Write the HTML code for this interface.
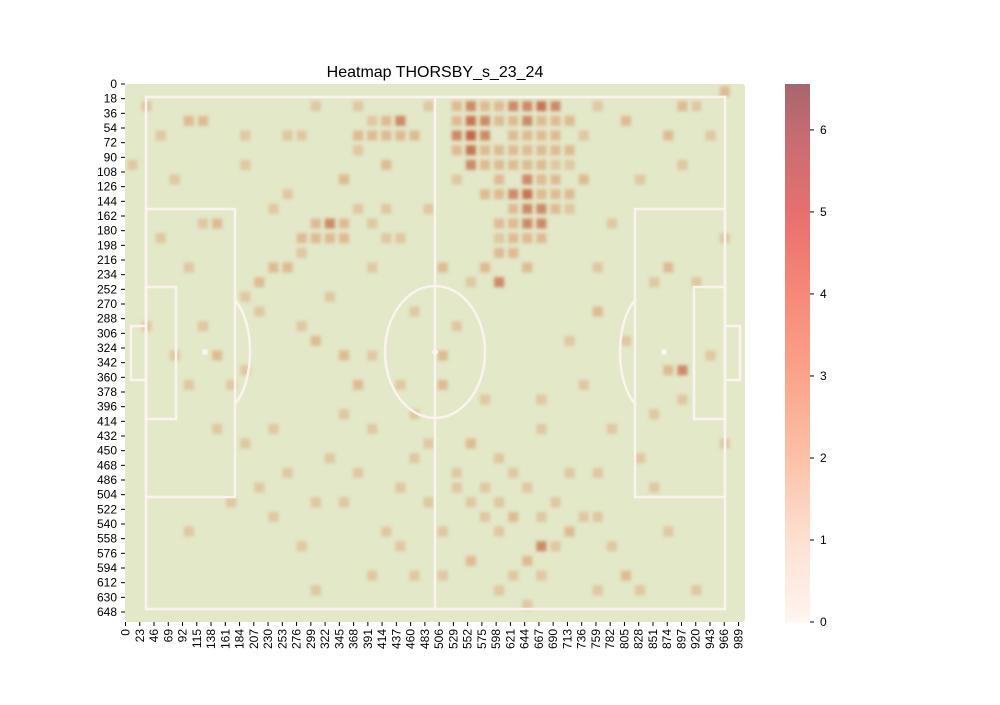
<!DOCTYPE html>
<html><head><meta charset="utf-8">
<style>
body{margin:0;background:#fff;}
svg text{font-family:"Liberation Sans",sans-serif;fill:#000;}
</style></head>
<body>
<svg width="1000" height="700" xmlns="http://www.w3.org/2000/svg">
<defs>
<filter id="bl" x="-20%" y="-20%" width="140%" height="140%"><feGaussianBlur stdDeviation="1.6"/></filter>
<linearGradient id="cb" x1="0" y1="1" x2="0" y2="0">
<stop offset="0" stop-color="#fff5f0"/>
<stop offset="0.15" stop-color="#fde0d2"/>
<stop offset="0.3" stop-color="#fcc2a8"/>
<stop offset="0.45" stop-color="#fba58a"/>
<stop offset="0.6" stop-color="#f88a78"/>
<stop offset="0.75" stop-color="#e8716f"/>
<stop offset="0.9" stop-color="#c76c71"/>
<stop offset="1" stop-color="#a86570"/>
</linearGradient>
</defs>
<text x="435" y="77" font-size="16" text-anchor="middle">Heatmap THORSBY_s_23_24</text>
<rect x="125" y="84" width="620" height="538" rx="3" fill="#e3e8c8"/>
<g id="cells" filter="url(#bl)"></g>
<g fill="none" stroke="#fbf4ee" stroke-width="2.5">
<rect x="146" y="97" width="579" height="512"/>
<line x1="435" y1="97" x2="435" y2="609"/>
<ellipse cx="435" cy="352" rx="50" ry="66"/>
<rect x="146" y="209" width="89" height="288"/>
<rect x="146" y="287" width="30" height="132"/>
<rect x="131" y="326" width="15" height="54"/>
<rect x="635" y="209" width="90" height="288"/>
<rect x="694" y="287" width="31" height="132"/>
<rect x="725" y="326" width="15" height="54"/>
<path d="M235 300 A30 60 0 0 1 235 404"/>
<path d="M635 300 A30 60 0 0 0 635 404"/>
</g>
<circle cx="435" cy="352" r="3" fill="#fbf4ee"/>
<circle cx="205" cy="352" r="3" fill="#fbf4ee"/>
<circle cx="664" cy="352" r="3" fill="#fbf4ee"/>
<g id="xt"></g>
<g id="yt"></g>
<rect x="785" y="84" width="25" height="538" fill="url(#cb)"/>
<g id="cbt"></g>
</svg>
<script>
const cellCols=[24,24,24,24,24,25,25,25,23,27,28,29,30,28,29,30,27,31,27,26,28,27,28,29,28,27,29,29,27,30,26,25,27,26,25,24,22,19,18,20,17,16,13,14,15,12,10,11,9,4,5,6,5,16,13,15,6,4,17,22,39,38,38,37,33,31,32,30,31,29,30,32,35,38,39,41,42,29,28,24,27,31,35,38,24,20,22,18,15,12,11,8,10,11,3,2,9,8,4,5,7,3,1,2,10,11,9,13,14,17,19,21,23,25,26,27,28,30,31,33,32,26,25,22,20,17,13,26,33,36,40,37,36,39,37,41,42,40,42,34,36,39,40,33,21,16,13,8,1,0,23,21,19,17,20,23,19,25,29,32,34,29,31,33,35,14,12,8,6,15,21,28,29,34,12,19,7,4,
23,23,23,25,25,26,26,26,26,27,27,28,28,28,29,29,29,30,30,30,28,28,26,26,27,29,31,31,26,28,19,18,18,17,16,14,15,13,12,16,17,18,
23,24,26,29,30,27,22,18,15,16,10,8,20,33];
const cellRows=[1,2,3,4,5,2,3,4,4,1,1,1,1,2,2,2,3,2,5,6,6,7,7,8,8,8,9,10,9,6,7,7,11,13,12,13,12,2,2,3,3,3,9,9,10,10,12,12,13,2,2,9,9,20,17,18,18,20,18,18,19,19,12,13,15,7,6,4,4,4,5,3,2,3,1,3,0,31,32,32,29,30,33,30,24,22,20,10,6,3,3,5,8,7,6,3,15,14,12,16,20,18,16,10,23,26,27,28,25,23,27,24,27,27,25,26,27,28,26,26,29,30,29,30,33,33,34,34,34,34,34,27,25,21,22,18,24,13,10,9,6,5,1,1,1,1,1,3,1,5,6,8,10,12,15,16,20,21,21,20,23,23,17,12,17,14,16,19,23,22,28,35,33,31,31,31,28,30,
1,2,3,1,5,1,2,4,5,2,4,3,4,5,3,5,6,3,7,8,9,10,9,10,10,7,8,5,11,12,3,3,5,2,4,10,9,10,11,8,9,8,
26,28,28,29,31,33,33,30,28,26,29,24,25,29];
const cellVals=[3,4,5,4,3,3,3,2,2,3,3,4,3,3,2,2,2,2,2,2,3,3,4,3,3,2,3,2,2,2,2,2,2,3,2,1,2,3,2,2,2,2,2,3,2,2,2,2,2,2,2,2,1,2,2,2,2,1,1,2,3,2,2,1,2,2,2,2,2,2,1,1,2,2,2,1,2,3,2,2,2,2,2,1,2,1,2,1,2,1,1,1,1,1,1,1,1,1,1,1,1,1,1,1,1,1,1,1,1,1,1,1,1,1,1,1,1,1,1,1,1,1,1,1,1,1,1,1,1,1,1,1,1,1,1,1,1,1,1,1,1,1,1,1,1,1,1,1,1,1,1,1,1,1,1,1,1,1,1,1,1,1,1,1,1,1,1,1,1,1,1,1,1,1,1,1,1,1,
2,2,3,2,2,2,2,2,2,2,2,2,2,2,2,2,2,2,2,2,3,2,2,1,2,2,1,1,2,2,2,2,2,1,1,2,2,2,1,1,1,1,
1,1,1,1,1,1,1,1,1,1,1,1,1,1];
const xTickLabels=[];for(let i=0;i<=43;i++)xTickLabels.push(String(i*23));
const yTickLabels=[];for(let i=0;i<=36;i++)yTickLabels.push(String(i*18));
const cbTicks=[0,1,2,3,4,5,6];
const NS="http://www.w3.org/2000/svg";
const colW=14.1,rowH=14.67,x0=125,y0=84;
const xCell=c=>x0+c*colW, yCell=r=>y0+r*rowH;
const cbY=v=>622-v*(538/6.56);
const g=document.getElementById('cells');
for(let i=0;i<cellCols.length;i++){
  const r=document.createElementNS(NS,'rect');
  r.setAttribute('x',xCell(cellCols[i])+2.5);r.setAttribute('y',yCell(cellRows[i])+2.5);
  r.setAttribute('width',10);r.setAttribute('height',10);
  r.setAttribute('fill',cellVals[i]>=3?'#c0502e':'#d98a5a');
  r.setAttribute('opacity',Math.min(0.85,0.2+0.14*cellVals[i]));
  
  
  g.appendChild(r);
}
const xt=document.getElementById('xt');
xTickLabels.forEach((l,i)=>{
  const x=x0+(+l)*(613/989)+0.5;
  const ln=document.createElementNS(NS,'line');
  ln.setAttribute('x1',x);ln.setAttribute('x2',x);ln.setAttribute('y1',622);ln.setAttribute('y2',626);ln.setAttribute('stroke','#000');
  xt.appendChild(ln);
  const t=document.createElementNS(NS,'text');
  t.setAttribute('transform',`translate(${x+4},629) rotate(-90)`);t.setAttribute('text-anchor','end');t.setAttribute('font-size','12');
  t.textContent=l;
  
  
  xt.appendChild(t);
});
const yt=document.getElementById('yt');
yTickLabels.forEach(l=>{
  const y=y0+(+l)*(528/648);
  const ln=document.createElementNS(NS,'line');
  ln.setAttribute('x1',121);ln.setAttribute('x2',125);ln.setAttribute('y1',y);ln.setAttribute('y2',y);ln.setAttribute('stroke','#000');
  yt.appendChild(ln);
  const t=document.createElementNS(NS,'text');
  t.setAttribute('x',117);t.setAttribute('y',y+4);t.setAttribute('text-anchor','end');t.setAttribute('font-size','12');
  t.textContent=l;
  
  
  yt.appendChild(t);
});
const cbt=document.getElementById('cbt');
cbTicks.forEach(v=>{
  const y=cbY(v);
  const ln=document.createElementNS(NS,'line');
  ln.setAttribute('x1',810);ln.setAttribute('x2',814);ln.setAttribute('y1',y);ln.setAttribute('y2',y);ln.setAttribute('stroke','#000');
  cbt.appendChild(ln);
  const t=document.createElementNS(NS,'text');
  t.setAttribute('x',820);t.setAttribute('y',y+4);t.setAttribute('font-size','12');
  t.textContent=String(v);
  
  
  cbt.appendChild(t);
});
</script>
</body></html>
